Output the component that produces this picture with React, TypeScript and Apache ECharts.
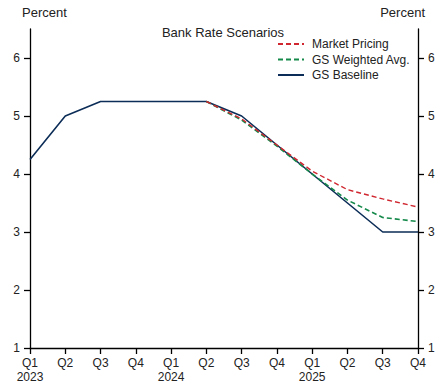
import React, { useEffect, useRef } from "react";
import * as echarts from "echarts";

const quarters = ["Q1\n2023", "Q2", "Q3", "Q4", "Q1\n2024", "Q2", "Q3", "Q4", "Q1\n2025", "Q2", "Q3", "Q4"];
const marketPricing = [null, null, null, null, null, 5.25, 4.95, 4.5, 4.05, 3.73, 3.57, 3.43];
const gsWeighted = [null, null, null, null, null, 5.25, 4.93, 4.48, 4.0, 3.55, 3.25, 3.18];
const gsBaseline = [4.25, 5.0, 5.25, 5.25, 5.25, 5.25, 5.0, 4.5, 4.0, 3.5, 3.0, 3.0];
const yTicks = [1, 2, 3, 4, 5, 6];

const FONT = "Liberation Sans, Arial, sans-serif";
const TXT = "#222";

export default function App() {
  const ref = useRef<HTMLDivElement>(null);
  useEffect(() => {
    document.body.style.margin = "0";
    const chart = echarts.init(ref.current!, null, { renderer: "svg" });
    const yAxisBase = (pos: "left" | "right") => ({
      type: "value",
      position: pos,
      min: 1,
      max: 6.5,
      interval: 1,
      splitLine: { show: false },
      axisLine: { show: true, lineStyle: { color: "#000", width: 1.3 } },
      axisTick: { show: true, inside: false, length: 6, customValues: yTicks, lineStyle: { color: "#000", width: 1.3 } },
      axisLabel: { customValues: yTicks, color: TXT, fontFamily: FONT, fontSize: 12, margin: 10 },
    });
    chart.setOption({
      animation: false,
      textStyle: { fontFamily: FONT },
      title: {
        text: "Bank Rate Scenarios",
        left: "center",
        top: 21,
        textStyle: { fontFamily: FONT, fontSize: 13, fontWeight: "normal", color: TXT },
      },
      legend: {
        orient: "vertical",
        left: 272,
        top: 33,
        itemWidth: 26,
        itemHeight: 14,
        itemGap: 3.5,
        itemStyle: { opacity: 0 },
        textStyle: { fontFamily: FONT, fontSize: 12, color: TXT, padding: [0, 0, 0, 3] },
        data: ["Market Pricing", "GS Weighted Avg.", "GS Baseline"],
      },
      grid: { left: 30, right: 28, top: 29, bottom: 43, containLabel: false },
      xAxis: {
        type: "category",
        data: quarters,
        boundaryGap: false,
        axisLine: { lineStyle: { color: "#000", width: 1.3 } },
        axisTick: { alignWithLabel: true, length: 6, lineStyle: { color: "#000", width: 1.3 } },
        axisLabel: { color: TXT, fontFamily: FONT, fontSize: 12, margin: 8, lineHeight: 14, interval: 0 },
      },
      yAxis: [yAxisBase("left"), yAxisBase("right")],
      graphic: [
        { type: "text", left: 22, top: 6, style: { text: "Percent", fontFamily: FONT, fontSize: 13, fill: TXT } },
        { type: "text", right: 21, top: 6, style: { text: "Percent", fontFamily: FONT, fontSize: 13, fill: TXT } },
      ],
      series: [
        {
          name: "GS Baseline",
          type: "line",
          data: gsBaseline,
          showSymbol: false,
          symbol: "none",
          z: 1,
          lineStyle: { color: "#0c2d57", width: 1.6 },
          itemStyle: { color: "#0c2d57" },
        },
        {
          name: "GS Weighted Avg.",
          type: "line",
          data: gsWeighted,
          showSymbol: false,
          symbol: "none",
          z: 2,
          lineStyle: { color: "#14894a", width: 1.6, type: [5, 3] },
          itemStyle: { color: "#14894a" },
        },
        {
          name: "Market Pricing",
          type: "line",
          data: marketPricing,
          showSymbol: false,
          symbol: "none",
          z: 3,
          lineStyle: { color: "#d0262f", width: 1.4, type: [5, 3] },
          itemStyle: { color: "#d0262f" },
        },
      ],
    });
    return () => chart.dispose();
  }, []);
  return <div ref={ref} style={{ width: 446, height: 391 }} />;
}
